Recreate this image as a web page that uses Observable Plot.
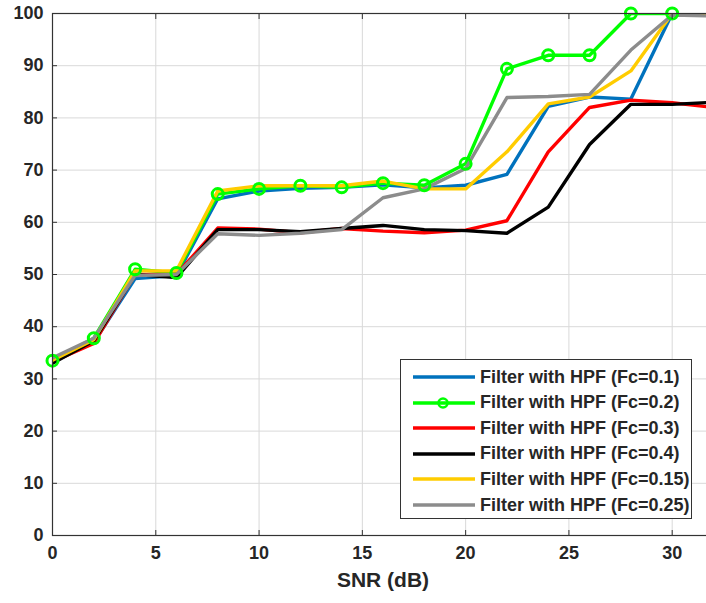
<!DOCTYPE html>
<html>
<head>
<meta charset="utf-8">
<script src="https://cdn.jsdelivr.net/npm/d3@7"></script>
<script src="https://cdn.jsdelivr.net/npm/@observablehq/plot@0.6"></script>
<style>
  html, body { margin: 0; padding: 0; background: #fff; overflow: hidden; }
  #wrap { position: relative; width: 706px; height: 603px; overflow: hidden; font-family: "Liberation Sans", Arial, sans-serif; }
  #wrap svg { max-width: none !important; }
  #legend { position: absolute; left: 400px; top: 359px; width: 292px; height: 160px; border: 1.2px solid #333; background: #fff; box-sizing: border-box; }
  .row { position: absolute; left: 0; height: 20px; display: flex; align-items: center; }
  .row span { font-weight: bold; font-size: 18px; color: #262626; margin-left: 4px; white-space: nowrap; }
</style>
</head>
<body>
<div id="wrap"></div>
<script>
const snr = [0, 2, 4, 6, 8, 10, 12, 14, 16, 18, 20, 22, 24, 26, 28, 30, 32];
const fc01  = [33.5, 37.0, 49.2, 49.8, 64.5, 66.0, 66.5, 66.7, 67.2, 66.6, 67.1, 69.2, 82.2, 84.0, 83.6, 100, 100];
const fc02  = [33.5, 37.8, 51.0, 50.3, 65.4, 66.4, 67.0, 66.7, 67.5, 67.1, 71.2, 89.4, 92.0, 92.0, 100, 100, 100];
const fc03  = [33.3, 36.8, 50.0, 50.0, 58.9, 58.7, 58.0, 58.8, 58.3, 58.0, 58.5, 60.3, 73.5, 82.0, 83.4, 82.9, 82.0];
const fc04  = [33.0, 37.3, 50.0, 49.4, 58.6, 58.6, 58.2, 58.8, 59.4, 58.6, 58.4, 57.9, 62.9, 74.9, 82.6, 82.6, 83.0];
const fc015 = [33.6, 37.5, 50.7, 50.7, 66.0, 67.0, 67.0, 67.0, 67.9, 66.4, 66.4, 73.5, 82.7, 84.0, 89.0, 100, 100];
const fc025 = [34.0, 37.8, 49.8, 50.0, 57.8, 57.5, 57.9, 58.6, 64.7, 66.4, 70.3, 83.9, 84.1, 84.5, 93.0, 99.7, 99.5];

const seriesNames = ["Filter with HPF (Fc=0.1)", "Filter with HPF (Fc=0.2)", "Filter with HPF (Fc=0.3)", "Filter with HPF (Fc=0.4)", "Filter with HPF (Fc=0.15)", "Filter with HPF (Fc=0.25)"];
const seriesValues = [fc01, fc02, fc03, fc04, fc015, fc025];
const seriesColors = ["#0072BD", "#00FF00", "#FF0000", "#000000", "#FFCC00", "#8C8C8C"];
const xTicks = [0, 5, 10, 15, 20, 25, 30];
const yTicks = [0, 10, 20, 30, 40, 50, 60, 70, 80, 90, 100];

const rows = [];
seriesValues.forEach((vals, i) => vals.forEach((v, j) => rows.push({x: snr[j], y: v, s: seriesNames[i]})));
const greenRows = rows.filter(d => d.s === seriesNames[1]);

const font = "Liberation Sans, Arial, sans-serif";
const chart = Plot.plot({
  width: 714,
  height: 603,
  marginLeft: 52,
  marginTop: 13,
  marginBottom: 68,
  marginRight: 1,
  style: {fontFamily: font, background: "#fff", overflow: "visible", maxWidth: "none"},
  x: {domain: [0, 32], ticks: xTicks},
  y: {domain: [0, 100], ticks: yTicks},
  color: {domain: seriesNames, range: seriesColors},
  marks: [
    Plot.gridX(xTicks, {stroke: "#d9d9d9", strokeOpacity: 1, strokeWidth: 1}),
    Plot.gridY(yTicks, {stroke: "#d9d9d9", strokeOpacity: 1, strokeWidth: 1}),
    Plot.line(rows, {x: "x", y: "y", z: "s", stroke: "s", strokeWidth: 3.4, clip: true}),
    Plot.dot(greenRows.filter(d => d.x <= 30), {x: "x", y: "y", r: 5.5, stroke: "#00FF00", strokeWidth: 3, fill: "none"}),
    Plot.frame({stroke: "#333", strokeWidth: 1.2}),
    Plot.axisX(xTicks, {anchor: "bottom", tickSize: -5, tickPadding: 16, fontSize: 18, fontWeight: "bold", fill: "#262626", stroke: "#333", label: null}),
    Plot.axisX(xTicks, {anchor: "top", tickSize: -5, text: null, label: null, stroke: "#333"}),
    Plot.axisY(yTicks, {anchor: "left", tickSize: -5, tickPadding: 14, fontSize: 18, fontWeight: "bold", fill: "#262626", stroke: "#333", label: null}),
    Plot.axisY(yTicks, {anchor: "right", tickSize: -5, text: null, label: null, stroke: "#333"}),
    Plot.text(["SNR (dB)"], {frameAnchor: "bottom", dy: 51, fontSize: 21, fontWeight: "bold", fill: "#262626"})
  ]
});

const wrap = document.getElementById("wrap");
wrap.appendChild(chart);

const legend = document.createElement("div");
legend.id = "legend";
seriesNames.forEach((name, i) => {
  const row = document.createElement("div");
  row.className = "row";
  row.style.top = (7 + i * 25.6) + "px";
  row.style.left = "11px";
  const marker = i === 1 ? `<circle cx="31" cy="10" r="4.5" fill="none" stroke="${seriesColors[i]}" stroke-width="2.6"/>` : "";
  row.innerHTML = `<svg width="64" height="20"><line x1="1" y1="10" x2="63" y2="10" stroke="${seriesColors[i]}" stroke-width="3.4"/>${marker}</svg><span>${name}</span>`;
  legend.appendChild(row);
});
wrap.appendChild(legend);
</script>
</body>
</html>
